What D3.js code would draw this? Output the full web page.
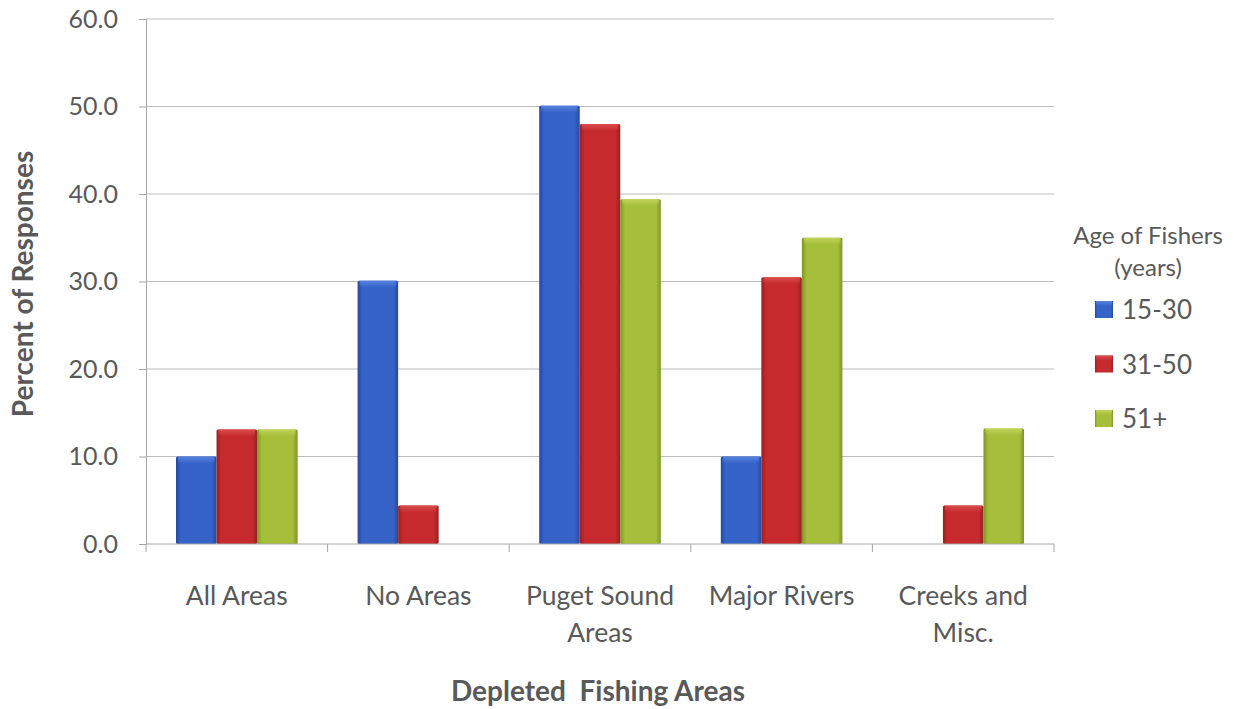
<!DOCTYPE html>
<html>
<head>
<meta charset="utf-8">
<script src="https://cdn.jsdelivr.net/npm/d3@7"></script>
<style>
  html, body { margin: 0; padding: 0; background: #fff; }
  svg { display: block; }
  text { font-family: Lato, "Open Sans", sans-serif; fill: #595959; }
</style>
</head>
<body>
<svg id="chart" width="1234" height="709"></svg>
<script>
// Depleted fishing areas by age group of fishers
const categories = [["All Areas"], ["No Areas"], ["Puget Sound", "Areas"], ["Major Rivers"], ["Creeks and", "Misc."]];
const seriesNames = ["15-30", "31-50", "51+"];
const values15to30 = [10.0, 30.1, 50.1, 10.0, 0.0];
const values31to50 = [13.1, 4.4, 48.0, 30.5, 4.4];
const values51plus = [13.1, 0.0, 39.4, 35.0, 13.2];
const yTicks = [0, 10, 20, 30, 40, 50, 60];

const series = [values15to30, values31to50, values51plus];
const colors = [
  { base: "#3563c8", dark: "#2649a0", light: "#5b86e0" },
  { base: "#c62a2c", dark: "#972022", light: "#de5050" },
  { base: "#a6bf3a", dark: "#7f9328", light: "#c2d65c" }
];

const svg = d3.select("#chart");
const margin = { left: 146, right: 1234 - 1054, top: 19, bottom: 709 - 544 };
const W = 1234, H = 709;
const plotW = W - margin.left - margin.right;
const plotH = H - margin.top - margin.bottom;

// Gradients give the bars a bevelled look
const defs = svg.append("defs");
colors.forEach((c, i) => {
  const g = defs.append("linearGradient").attr("id", "grad" + i)
    .attr("x1", "0").attr("x2", "1").attr("y1", "0").attr("y2", "0");
  g.append("stop").attr("offset", "0").attr("stop-color", c.dark);
  g.append("stop").attr("offset", "0.12").attr("stop-color", c.base);
  g.append("stop").attr("offset", "0.5").attr("stop-color", c.base);
  g.append("stop").attr("offset", "0.88").attr("stop-color", c.base);
  g.append("stop").attr("offset", "1").attr("stop-color", c.dark);
  const t = defs.append("linearGradient").attr("id", "top" + i)
    .attr("x1", "0").attr("x2", "0").attr("y1", "0").attr("y2", "1");
  t.append("stop").attr("offset", "0").attr("stop-color", c.light).attr("stop-opacity", 0.9);
  t.append("stop").attr("offset", "1").attr("stop-color", c.light).attr("stop-opacity", 0);
});

const g = svg.append("g").attr("transform", `translate(${margin.left},${margin.top})`);

const x0 = d3.scaleBand().domain(d3.range(categories.length)).range([0, plotW]).paddingInner(0).paddingOuter(0);
const x1 = d3.scaleBand().domain(d3.range(series.length)).range([30, x0.bandwidth() - 30]).padding(0);
const y = d3.scaleLinear().domain([0, 60]).range([plotH, 0]);

// Horizontal gridlines
g.append("g").selectAll("line").data(yTicks.filter(t => t > 0)).join("line")
  .attr("x1", 0).attr("x2", plotW)
  .attr("y1", d => y(d)).attr("y2", d => y(d))
  .attr("stroke", "#bdbdbd").attr("stroke-width", 1);

// Bars
const groups = g.append("g").selectAll("g").data(categories).join("g")
  .attr("transform", (d, i) => `translate(${x0(i)},0)`);
groups.each(function(cat, ci) {
  const sel = d3.select(this);
  series.forEach((vals, si) => {
    const v = vals[ci];
    if (v <= 0) return;
    const bx = x1(si), bw = x1.bandwidth(), by = y(v), bh = plotH - y(v);
    sel.append("rect").attr("x", bx).attr("y", by).attr("width", bw).attr("height", bh)
      .attr("fill", `url(#grad${si})`).attr("rx", 1.5);
    sel.append("rect").attr("x", bx + 2).attr("y", by).attr("width", bw - 4).attr("height", Math.min(7, bh))
      .attr("fill", `url(#top${si})`);
  });
});

// Y axis
const yAxis = d3.axisLeft(y).tickValues(yTicks).tickFormat(d3.format(".1f")).tickSize(7).tickPadding(21);
const ya = g.append("g").call(yAxis);
ya.select(".domain").attr("stroke", "#a6a6a6");
ya.selectAll(".tick line").attr("stroke", "#a6a6a6");
ya.selectAll(".tick text").attr("font-size", 25).attr("fill", "#595959")
  .style("font-family", "Lato, sans-serif");

// X axis with ticks at category boundaries
g.append("line").attr("x1", 0).attr("x2", plotW).attr("y1", plotH).attr("y2", plotH).attr("stroke", "#a6a6a6");
g.append("g").selectAll("line").data(d3.range(categories.length + 1)).join("line")
  .attr("x1", d => d * x0.bandwidth()).attr("x2", d => d * x0.bandwidth())
  .attr("y1", plotH).attr("y2", plotH + 8).attr("stroke", "#a6a6a6");

// Category labels
const catLabels = g.append("g").selectAll("text").data(categories).join("text")
  .attr("text-anchor", "middle").attr("font-size", 26.5).attr("fill", "#4a4a4a")
  .attr("x", (d, i) => x0(i) + x0.bandwidth() / 2)
  .attr("y", plotH + 61);
catLabels.each(function(lines) {
  const t = d3.select(this);
  lines.forEach((ln, k) => {
    t.append("tspan").attr("x", t.attr("x")).attr("dy", k === 0 ? 0 : 37).text(ln);
  });
});

// Axis titles
svg.append("text").attr("x", 598).attr("y", 701).attr("text-anchor", "middle")
  .attr("font-size", 28).attr("font-weight", "bold").attr("fill", "#404040")
  .style("white-space", "pre").text("Depleted  Fishing Areas");
svg.append("text").attr("transform", "translate(33,284) rotate(-90)").attr("text-anchor", "middle")
  .attr("font-size", 28).attr("font-weight", "bold").attr("fill", "#404040")
  .text("Percent of Responses");

// Legend
const lg = svg.append("g");
lg.append("text").attr("x", 1148).attr("y", 244).attr("text-anchor", "middle").attr("font-size", 24)
  .attr("fill", "#404040").text("Age of Fishers");
lg.append("text").attr("x", 1148).attr("y", 276).attr("text-anchor", "middle").attr("font-size", 24)
  .attr("fill", "#404040").text("(years)");
const items = lg.selectAll("g.item").data(seriesNames).join("g").attr("class", "item")
  .attr("transform", (d, i) => `translate(1095,${301 + i * 54.5})`);
items.append("rect").attr("width", 18).attr("height", 17).attr("fill", (d, i) => `url(#grad${i})`);
items.append("rect").attr("x", 1).attr("width", 16).attr("height", 5).attr("fill", (d, i) => `url(#top${i})`);
items.append("text").attr("x", 27).attr("y", 18).attr("font-size", 26).attr("fill", "#404040").text(d => d);
</script>
</body>
</html>
